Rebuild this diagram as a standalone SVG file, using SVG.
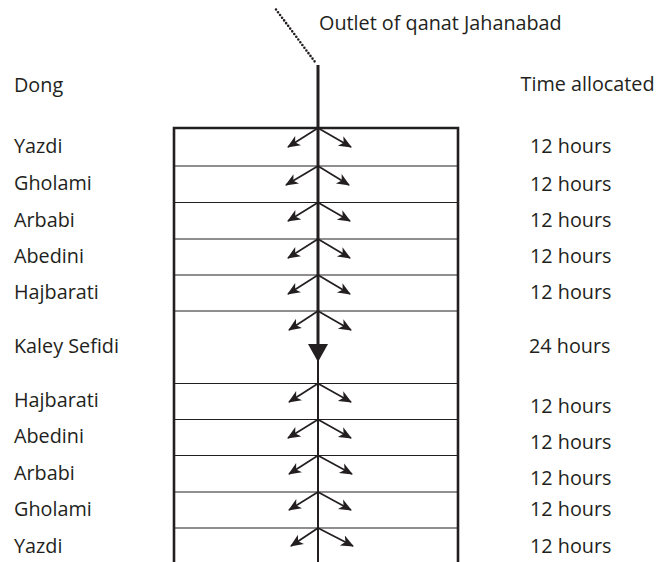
<svg xmlns="http://www.w3.org/2000/svg" width="657" height="562" viewBox="0 0 657 562">
<style>
text{font-family:"Open Sans","Noto Sans","Liberation Sans",sans-serif;font-size:19.8px;fill:#231f20}
.row{stroke:#231f20;stroke-width:1.1}
.frame{stroke:#231f20;stroke-width:2.6;fill:none}
.br{stroke:#231f20;stroke-width:1.7;fill:none;marker-end:url(#ah)}
</style>
<defs>
<marker id="ah" markerUnits="userSpaceOnUse" markerWidth="16" markerHeight="14" refX="12" refY="6" orient="auto" viewBox="0 0 16 14">
<path d="M0,0.5 L13,6 L0,11.5 L3.5,6 Z" fill="#231f20"/>
</marker>
</defs>
<rect width="657" height="562" fill="#fff"/>
<g id="headers">
<text x="319" y="30">Outlet of qanat Jahanabad</text>
<text x="14" y="91.5">Dong</text>
<text x="520.5" y="90.5">Time allocated</text>
</g>
<g id="box">
<path class="frame" d="M174,562 V128 H458 V562"/>
</g>
<g id="r1"><line class="row" x1="174" y1="166" x2="458" y2="166"/><text x="14" y="153">Yazdi</text><text x="530" y="153">12 hours</text></g>
<g id="r2"><line class="row" x1="174" y1="202.5" x2="458" y2="202.5"/><text x="14" y="190">Gholami</text><text x="530" y="191">12 hours</text></g>
<g id="r3"><line class="row" x1="174" y1="239" x2="458" y2="239"/><text x="14" y="226.5">Arbabi</text><text x="530" y="227">12 hours</text></g>
<g id="r4"><line class="row" x1="174" y1="275" x2="458" y2="275"/><text x="14" y="263">Abedini</text><text x="530" y="263">12 hours</text></g>
<g id="r5"><line class="row" x1="174" y1="311" x2="458" y2="311"/><text x="14" y="299">Hajbarati</text><text x="530" y="299">12 hours</text></g>
<g id="r6"><line class="row" x1="174" y1="383.5" x2="458" y2="383.5"/><text x="14" y="353">Kaley Sefidi</text><text x="529" y="352.5">24 hours</text></g>
<g id="r7"><line class="row" x1="174" y1="419.5" x2="458" y2="419.5"/><text x="14" y="407">Hajbarati</text><text x="530" y="413">12 hours</text></g>
<g id="r8"><line class="row" x1="174" y1="455.5" x2="458" y2="455.5"/><text x="14" y="443">Abedini</text><text x="530" y="449">12 hours</text></g>
<g id="r9"><line class="row" x1="174" y1="492" x2="458" y2="492"/><text x="14" y="479.5">Arbabi</text><text x="530" y="485">12 hours</text></g>
<g id="r10"><line class="row" x1="174" y1="528" x2="458" y2="528"/><text x="14" y="516">Gholami</text><text x="530" y="516">12 hours</text></g>
<g id="r11"><text x="14" y="553">Yazdi</text><text x="530" y="553">12 hours</text></g>
<g id="connectors">
<line x1="276" y1="9.5" x2="316.5" y2="64" stroke="#231f20" stroke-width="2.6" stroke-linecap="round" stroke-dasharray="0 3.4"/>
<line x1="318" y1="65" x2="318" y2="346" stroke="#231f20" stroke-width="3"/>
<line x1="318" y1="346" x2="318" y2="562" stroke="#231f20" stroke-width="2"/>
<path d="M308,344 L328,344 L318,362 Z" fill="#231f20"/>
<path class="br" d="M318,128 L288,147"/><path class="br" d="M318,128 L351,147"/>
<path class="br" d="M318,166 L286,185"/><path class="br" d="M318,166 L349,185"/>
<path class="br" d="M318,202.5 L288,221"/><path class="br" d="M318,202.5 L350,221"/>
<path class="br" d="M318,239 L288,258"/><path class="br" d="M318,239 L350,258"/>
<path class="br" d="M318,275 L288,294"/><path class="br" d="M318,275 L350,294"/>
<path class="br" d="M318,311 L289,330"/><path class="br" d="M318,311 L351,330"/>
<path class="br" d="M318,383.5 L289,402"/><path class="br" d="M318,383.5 L351,402"/>
<path class="br" d="M318,419.5 L288,438"/><path class="br" d="M318,419.5 L351,438"/>
<path class="br" d="M318,455.5 L289,474"/><path class="br" d="M318,455.5 L352,474"/>
<path class="br" d="M318,492 L289,510"/><path class="br" d="M318,492 L351,510"/>
<path class="br" d="M318,528 L291,546"/><path class="br" d="M318,528 L353,546"/>
</g>
</svg>
